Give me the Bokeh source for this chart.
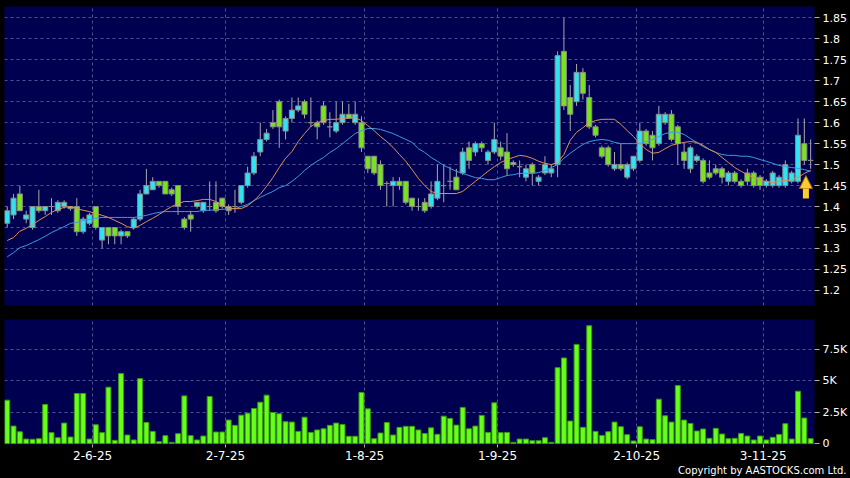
from bokeh.plotting import figure
from bokeh.layouts import column
from bokeh.models import (ColumnDataSource, FixedTicker, Range1d, Title, Grid,
                          CustomJSTickFormatter, GlobalInlineStyleSheet, Arrow, NormalHead)
from bokeh.embed import file_html
from bokeh.resources import INLINE

# ---------------- data ----------------
opens = [1.36, 1.38, 1.43, 1.37, 1.35, 1.40, 1.39, 1.40, 1.39, 1.40,
         1.40, 1.40, 1.34, 1.36, 1.40, 1.32, 1.35, 1.35, 1.33, 1.34,
         1.35, 1.37, 1.43, 1.44, 1.46, 1.46, 1.44, 1.45, 1.37, 1.38,
         1.40, 1.39, 1.40, 1.41, 1.42, 1.40, 1.40, 1.41, 1.45, 1.48,
         1.53, 1.56, 1.60, 1.65, 1.58, 1.61, 1.63, 1.65, 1.60, 1.60,
         1.64, 1.59, 1.58, 1.60, 1.62, 1.60, 1.60, 1.52, 1.52, 1.50,
         1.455, 1.45, 1.46, 1.46, 1.42, 1.40, 1.41, 1.40, 1.42, 1.45,
         1.46, 1.47, 1.48, 1.54, 1.53, 1.55, 1.51, 1.53, 1.54, 1.53,
         1.505, 1.495, 1.47, 1.50, 1.46, 1.48, 1.48, 1.50, 1.77, 1.66,
         1.65, 1.72, 1.66, 1.59, 1.54, 1.54, 1.49, 1.50, 1.47, 1.49,
         1.51, 1.58, 1.57, 1.55, 1.60, 1.62, 1.59, 1.53, 1.49, 1.51,
         1.51, 1.48, 1.49, 1.49, 1.46, 1.48, 1.46, 1.48, 1.48, 1.47,
         1.45, 1.45, 1.45, 1.45, 1.46, 1.46, 1.55, 1.51]
highs = [1.40, 1.43, 1.45, 1.39, 1.40, 1.44, 1.40, 1.42, 1.415, 1.415,
         1.40, 1.42, 1.375, 1.385, 1.40, 1.35, 1.35, 1.35, 1.345, 1.34,
         1.375, 1.44, 1.49, 1.47, 1.46, 1.46, 1.445, 1.45, 1.375, 1.39,
         1.41, 1.41, 1.46, 1.46, 1.42, 1.405, 1.44, 1.45, 1.495, 1.53,
         1.60, 1.585, 1.63, 1.655, 1.615, 1.66, 1.66, 1.655, 1.66, 1.605,
         1.65, 1.625, 1.65, 1.65, 1.645, 1.65, 1.615, 1.52, 1.52, 1.51,
         1.46, 1.47, 1.47, 1.46, 1.42, 1.42, 1.42, 1.46, 1.50, 1.50,
         1.495, 1.49, 1.54, 1.555, 1.555, 1.555, 1.535, 1.60, 1.555, 1.575,
         1.51, 1.51, 1.50, 1.505, 1.475, 1.52, 1.50, 1.77, 1.85, 1.69,
         1.74, 1.73, 1.69, 1.595, 1.545, 1.545, 1.53, 1.55, 1.505, 1.52,
         1.60, 1.585, 1.58, 1.64, 1.625, 1.63, 1.595, 1.55, 1.545, 1.525,
         1.515, 1.51, 1.50, 1.495, 1.485, 1.485, 1.465, 1.49, 1.485, 1.475,
         1.465, 1.485, 1.475, 1.51, 1.485, 1.61, 1.61, 1.56]
lows = [1.35, 1.37, 1.39, 1.36, 1.345, 1.385, 1.38, 1.38, 1.385, 1.395,
        1.39, 1.33, 1.335, 1.355, 1.345, 1.30, 1.31, 1.31, 1.31, 1.325,
        1.345, 1.365, 1.43, 1.44, 1.445, 1.43, 1.425, 1.38, 1.345, 1.34,
        1.395, 1.385, 1.39, 1.385, 1.395, 1.38, 1.385, 1.405, 1.445, 1.475,
        1.52, 1.555, 1.585, 1.54, 1.56, 1.60, 1.625, 1.61, 1.59, 1.56,
        1.595, 1.565, 1.575, 1.595, 1.61, 1.595, 1.53, 1.48, 1.475, 1.44,
        1.40, 1.40, 1.44, 1.405, 1.39, 1.39, 1.385, 1.395, 1.415, 1.41,
        1.44, 1.44, 1.475, 1.49, 1.52, 1.53, 1.50, 1.525, 1.51, 1.475,
        1.495, 1.47, 1.46, 1.45, 1.45, 1.475, 1.47, 1.47, 1.63, 1.58,
        1.64, 1.655, 1.585, 1.565, 1.515, 1.495, 1.485, 1.485, 1.465, 1.485,
        1.505, 1.545, 1.51, 1.545, 1.595, 1.555, 1.50, 1.49, 1.48, 1.505,
        1.455, 1.465, 1.475, 1.455, 1.45, 1.455, 1.445, 1.45, 1.445, 1.44,
        1.445, 1.445, 1.445, 1.445, 1.455, 1.455, 1.50, 1.49]
closes = [1.39, 1.42, 1.39, 1.38, 1.40, 1.39, 1.40, 1.40, 1.41, 1.41,
          1.395, 1.34, 1.37, 1.38, 1.35, 1.35, 1.33, 1.33, 1.34, 1.33,
          1.37, 1.43, 1.45, 1.46, 1.45, 1.43, 1.43, 1.40, 1.35, 1.37,
          1.41, 1.41, 1.40, 1.39, 1.40, 1.39, 1.40, 1.45, 1.48, 1.52,
          1.56, 1.575, 1.59, 1.59, 1.61, 1.63, 1.64, 1.62, 1.60, 1.59,
          1.60, 1.59, 1.60, 1.62, 1.61, 1.62, 1.54, 1.49, 1.48, 1.45,
          1.455, 1.46, 1.45, 1.41, 1.40, 1.40, 1.39, 1.43, 1.46, 1.45,
          1.46, 1.44, 1.53, 1.51, 1.55, 1.54, 1.53, 1.56, 1.52, 1.49,
          1.50, 1.495, 1.49, 1.48, 1.47, 1.50, 1.49, 1.76, 1.64, 1.62,
          1.72, 1.67, 1.59, 1.57, 1.52, 1.50, 1.50, 1.49, 1.50, 1.52,
          1.58, 1.55, 1.54, 1.62, 1.62, 1.56, 1.55, 1.51, 1.54, 1.52,
          1.46, 1.47, 1.48, 1.47, 1.48, 1.46, 1.45, 1.46, 1.45, 1.45,
          1.46, 1.48, 1.47, 1.50, 1.48, 1.57, 1.51, 1.51]
ma_short = [1.319, 1.326, 1.341, 1.348, 1.357, 1.367, 1.376, 1.386, 1.393, 1.398,
            1.400, 1.395, 1.391, 1.388, 1.383, 1.379, 1.374, 1.367, 1.360, 1.352,
            1.348, 1.355, 1.364, 1.372, 1.381, 1.391, 1.400, 1.407, 1.412, 1.412,
            1.414, 1.417, 1.417, 1.412, 1.402, 1.395, 1.395, 1.395, 1.402, 1.414,
            1.429, 1.448, 1.469, 1.493, 1.515, 1.531, 1.555, 1.574, 1.591, 1.600,
            1.605, 1.608, 1.608, 1.610, 1.612, 1.612, 1.605, 1.593, 1.581, 1.567,
            1.555, 1.541, 1.524, 1.508, 1.488, 1.467, 1.450, 1.436, 1.431, 1.431,
            1.431, 1.431, 1.436, 1.448, 1.460, 1.472, 1.484, 1.495, 1.505, 1.512,
            1.517, 1.522, 1.520, 1.515, 1.508, 1.503, 1.500, 1.505, 1.524, 1.558,
            1.577, 1.588, 1.600, 1.605, 1.608, 1.608, 1.608, 1.596, 1.581, 1.567,
            1.550, 1.536, 1.527, 1.529, 1.538, 1.546, 1.550, 1.553, 1.555, 1.553,
            1.546, 1.536, 1.529, 1.517, 1.505, 1.493, 1.484, 1.476, 1.469, 1.462,
            1.460, 1.457, 1.460, 1.462, 1.464, 1.469, 1.479, 1.486]
ma_long = [1.280, 1.290, 1.302, 1.307, 1.314, 1.321, 1.329, 1.338, 1.345, 1.352,
           1.360, 1.362, 1.367, 1.369, 1.372, 1.374, 1.374, 1.374, 1.374, 1.374,
           1.374, 1.376, 1.379, 1.383, 1.386, 1.388, 1.388, 1.388, 1.388, 1.388,
           1.388, 1.391, 1.391, 1.393, 1.393, 1.395, 1.395, 1.400, 1.405, 1.414,
           1.422, 1.429, 1.436, 1.445, 1.450, 1.460, 1.472, 1.486, 1.498, 1.508,
           1.517, 1.529, 1.538, 1.550, 1.562, 1.574, 1.581, 1.586, 1.586, 1.584,
           1.579, 1.574, 1.567, 1.560, 1.553, 1.538, 1.529, 1.517, 1.508, 1.498,
           1.491, 1.484, 1.479, 1.474, 1.469, 1.467, 1.464, 1.464, 1.469, 1.474,
           1.476, 1.479, 1.479, 1.479, 1.481, 1.486, 1.493, 1.500, 1.515, 1.527,
           1.538, 1.548, 1.555, 1.558, 1.560, 1.558, 1.553, 1.550, 1.550, 1.550,
           1.550, 1.555, 1.560, 1.567, 1.574, 1.577, 1.577, 1.572, 1.562, 1.553,
           1.543, 1.536, 1.529, 1.524, 1.522, 1.522, 1.520, 1.520, 1.517, 1.512,
           1.508, 1.503, 1.498, 1.495, 1.493, 1.491, 1.488, 1.484]
volumes = [3450, 1390, 940, 360, 340, 390, 3110, 870, 470, 1630,
           520, 3980, 3980, 360, 1500, 870, 4480, 260, 5560, 680,
           290, 5160, 1680, 970, 150, 630, 100, 790, 3790, 630,
           290, 600, 3740, 920, 920, 1870, 1450, 2260, 2420, 2790,
           3290, 3850, 2470, 2370, 1740, 1710, 970, 2100, 890, 1080,
           1180, 1450, 1630, 1520, 580, 580, 4060, 2760, 390, 840,
           1680, 680, 1290, 1370, 1370, 1080, 810, 1250, 740, 2180,
           2000, 1470, 2870, 1180, 1390, 2240, 890, 3240, 870, 890,
           100, 360, 360, 230, 230, 470, 100, 6030, 6800, 1790,
           7880, 1290, 9360, 970, 650, 940, 1710, 1340, 710, 210,
           1340, 360, 310, 3530, 2210, 1710, 4610, 1870, 1600, 1000,
           1160, 420, 1210, 760, 390, 420, 810, 600, 290, 600,
           290, 500, 730, 1580, 360, 4160, 2030, 390]
date_ticks = [13.5, 34.5, 56.5, 77.5, 99.5, 119.5]
date_labels = ["2-6-25", "2-7-25", "1-8-25", "1-9-25", "2-10-25", "3-11-25"]
price_ticks = [1.2, 1.25, 1.3, 1.35, 1.4, 1.45, 1.5, 1.55, 1.6, 1.65, 1.7, 1.75, 1.8, 1.85]
vol_ticks = [0, 2500, 5000, 7500]

# ---------------- styling ----------------
NAVY = "#000050"
UP = "#33e2f0"
DOWN = "#78e41e"
GRID = "#50508e"
FONT = "DejaVu Sans"

n = len(opens)
idx = list(range(n))
colors = [UP if c >= o else DOWN for o, c in zip(opens, closes)]
src = ColumnDataSource(dict(
    x=idx, high=highs, low=lows,
    top=[max(o, c) for o, c in zip(opens, closes)],
    bottom=[min(o, c) for o, c in zip(opens, closes)],
    color=colors, ma_s=ma_short, ma_l=ma_long, vol=volumes))

xr = Range1d(-0.43, n - 0.39)


def style_common(fig):
    fig.yaxis.axis_line_color = None
    fig.yaxis.major_tick_line_color = "#b0b0b0"
    fig.yaxis.major_tick_out = 5
    fig.yaxis.major_tick_in = 0
    fig.yaxis.minor_tick_line_color = None
    fig.yaxis.major_label_text_color = "white"
    fig.yaxis.major_label_text_font = FONT
    fig.yaxis.major_label_text_font_size = "11px"
    fig.yaxis.major_label_standoff = 3
    for g in list(fig.xgrid) + list(fig.ygrid):
        g.grid_line_color = GRID
        g.grid_line_dash = "3 3"
        g.grid_line_width = 1


# ---------------- price panel ----------------
p = figure(width=850, height=312, x_range=xr, y_range=Range1d(1.164, 1.877),
           x_axis_location=None, y_axis_location="right",
           toolbar_location=None, output_backend="svg",
           min_border_left=4, min_border_right=35, min_border_top=6, min_border_bottom=7,
           background_fill_color=NAVY, border_fill_color="black", outline_line_color=None)
if len(p.xgrid) == 0:
    p.add_layout(Grid(dimension=0, ticker=FixedTicker(ticks=date_ticks)))
else:
    p.xgrid.ticker = FixedTicker(ticks=date_ticks)
p.ygrid.ticker = FixedTicker(ticks=price_ticks)
p.yaxis.ticker = FixedTicker(ticks=price_ticks)
p.yaxis.formatter = CustomJSTickFormatter(code="return parseFloat(tick.toFixed(2)).toString();")
style_common(p)

p.segment(x0="x", y0="high", x1="x", y1="low", color="#a8a8a8", line_width=1, source=src)
p.vbar(x="x", top="top", bottom="bottom", width=0.8, fill_color="color",
       line_color="#8a8a8a", line_width=1, source=src)
p.line(x="x", y="ma_l", color="#3a9be0", line_width=1, source=src)
p.line(x="x", y="ma_s", color="#e0905a", line_width=1, source=src)

arrow_x = idx[-1] - 0.75
tip = lows[-1] - 0.016
p.add_layout(Arrow(end=NormalHead(size=13, fill_color="#ffcc2e", line_color="#a06a00", line_width=1),
                   x_start=arrow_x, y_start=tip - 0.055, x_end=arrow_x, y_end=tip,
                   line_color="#ffcc2e", line_width=6))

# ---------------- volume panel ----------------
v = figure(width=850, height=166, x_range=xr, y_range=Range1d(-71, 9858),
           y_axis_location="right", toolbar_location=None, output_backend="svg",
           min_border_left=4, min_border_right=35, min_border_top=7, min_border_bottom=34,
           background_fill_color=NAVY, border_fill_color="black", outline_line_color=None)
v.xgrid.ticker = FixedTicker(ticks=date_ticks)
v.ygrid.ticker = FixedTicker(ticks=[t for t in vol_ticks if t > 0])
v.yaxis.ticker = FixedTicker(ticks=vol_ticks)
v.yaxis.formatter = CustomJSTickFormatter(
    code="return tick == 0 ? '0' : (tick / 1000).toString() + 'K';")
style_common(v)
v.xaxis.ticker = FixedTicker(ticks=date_ticks)
v.xaxis.formatter = CustomJSTickFormatter(
    args=dict(dticks=date_ticks, dlabels=date_labels),
    code="const k = dticks.findIndex(t => Math.abs(t - tick) < 1e-6); return k >= 0 ? dlabels[k] : '';")
v.xaxis.axis_line_color = None
v.xaxis.major_tick_line_color = "#b0b0b0"
v.xaxis.major_tick_out = 3
v.xaxis.major_tick_in = 0
v.xaxis.minor_tick_line_color = None
v.xaxis.major_label_text_color = "white"
v.xaxis.major_label_text_font = FONT
v.xaxis.major_label_text_font_size = "12px"
v.xaxis.major_label_standoff = 3

v.vbar(x="x", top="vol", bottom=0, width=0.78, fill_color="#66ff1a",
       line_color="#3c9a12", line_width=1, source=src)

v.add_layout(Title(text="Copyright by AASTOCKS.com Ltd.", align="right", text_color="white",
                   text_font=FONT, text_font_size="10px", text_font_style="normal",
                   standoff=0, offset=-32), "below")

page_css = GlobalInlineStyleSheet(
    css="html, body { margin: 0 !important; padding: 0; background: #000000; overflow: hidden; }")
layout = column(p, v, spacing=0, stylesheets=[page_css])

open("out.html", "w").write(file_html(layout, INLINE))
